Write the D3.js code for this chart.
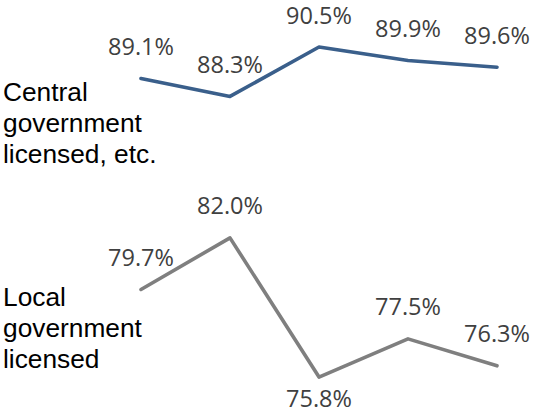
<!DOCTYPE html>
<html>
<head>
<meta charset="utf-8">
<script src="https://cdn.jsdelivr.net/npm/d3@7"></script>
<style>
  html, body { margin: 0; padding: 0; background: #fff; }
  svg { display: block; }
</style>
</head>
<body>
<svg id="chart" width="533" height="414"></svg>
<script>
// Five survey periods, one value per period for each licensing type (%)
const periods = ["P1", "P2", "P3", "P4", "P5"];
const centralValues = [89.1, 88.3, 90.5, 89.9, 89.6];
const localValues = [79.7, 82.0, 75.8, 77.5, 76.3];
const centralName = ["Central", "government", "licensed, etc."];
const localName = ["Local", "government", "licensed"];
// Value labels that sit under their point instead of above it
const localBelow = [false, false, true, false, false];

const svg = d3.select("#chart");

const x = d3.scalePoint().domain(periods).range([141, 497]);
const y = d3.scaleLinear().domain([75, 91]).range([395, 35.8]);

const series = [
  { name: centralName, values: centralValues, color: "#3a5f8b", below: [false, false, false, false, false], nameY: 100.7 },
  { name: localName, values: localValues, color: "#7f7f7f", below: localBelow, nameY: 305.7 }
];

const line = d3.line()
  .x((d, i) => x(periods[i]))
  .y(d => y(d));

series.forEach(s => {
  svg.append("path")
    .datum(s.values)
    .attr("d", line)
    .attr("fill", "none")
    .attr("stroke", s.color)
    .attr("stroke-width", 3.6)
    .attr("stroke-linejoin", "round")
    .attr("stroke-linecap", "round");

  svg.append("g")
    .selectAll("text")
    .data(s.values)
    .join("text")
    .attr("x", (d, i) => x(periods[i]))
    .attr("y", (d, i) => s.below[i] ? y(d) + 29.5 : y(d) - 23.5)
    .attr("text-anchor", "middle")
    .attr("font-family", "'Open Sans', 'Noto Sans', sans-serif")
    .attr("font-size", "23.5px")
    .attr("fill", "#404040")
    .text(d => d.toFixed(1) + "%");

  svg.append("text")
    .attr("font-family", "'Liberation Sans', Arial, sans-serif")
    .attr("font-size", "26.3px")
    .attr("fill", "#000")
    .selectAll("tspan")
    .data(s.name)
    .join("tspan")
    .attr("x", 3)
    .attr("y", (d, i) => s.nameY + i * 31.3)
    .text(d => d);
});
</script>
</body>
</html>
